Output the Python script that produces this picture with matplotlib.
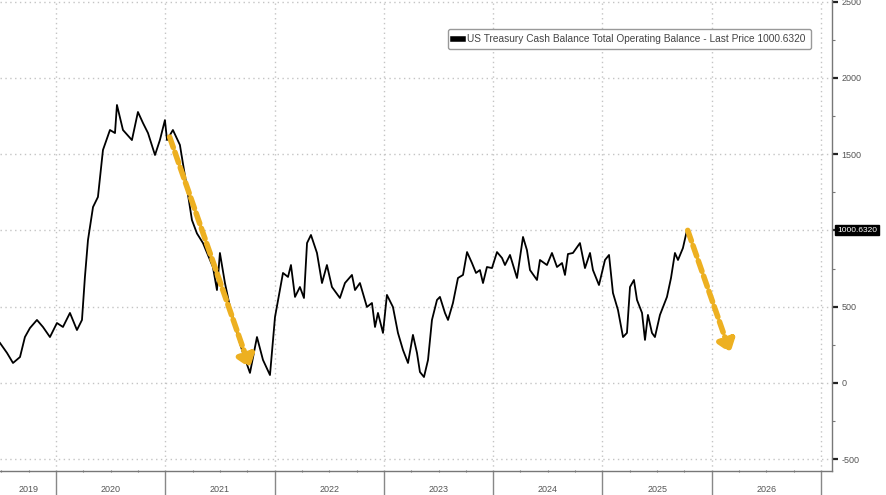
import matplotlib
matplotlib.use("Agg")
import matplotlib.pyplot as plt
from matplotlib.patches import FancyArrowPatch

plt.rcParams["savefig.bbox"] = None
plt.rcParams["font.family"] = ["Liberation Sans", "DejaVu Sans"]

# TGA balance (USD bn), dates as decimal years
years = [2019.488, 2019.552, 2019.607, 2019.671, 2019.716, 2019.762, 2019.826, 2019.881,
         2019.945, 2020.009, 2020.064, 2020.128, 2020.192, 2020.238, 2020.265, 2020.293,
         2020.339, 2020.384, 2020.430, 2020.494, 2020.540, 2020.558, 2020.613, 2020.695,
         2020.750, 2020.796, 2020.842, 2020.906, 2020.951, 2020.997, 2021.016, 2021.070,
         2021.134, 2021.199, 2021.244, 2021.290, 2021.345, 2021.436, 2021.473, 2021.500,
         2021.546, 2021.592, 2021.656, 2021.702, 2021.775, 2021.839, 2021.894, 2021.958,
         2022.004, 2022.049, 2022.077, 2022.123, 2022.150, 2022.187, 2022.232, 2022.269,
         2022.297, 2022.333, 2022.388, 2022.434, 2022.479, 2022.525, 2022.598, 2022.644,
         2022.708, 2022.736, 2022.781, 2022.845, 2022.891, 2022.919, 2022.946, 2022.992,
         2023.028, 2023.083, 2023.129, 2023.175, 2023.221, 2023.266, 2023.303, 2023.330,
         2023.367, 2023.404, 2023.440, 2023.486, 2023.513, 2023.559, 2023.587, 2023.632,
         2023.678, 2023.724, 2023.761, 2023.806, 2023.843, 2023.879, 2023.907, 2023.943,
         2023.989, 2024.035, 2024.081, 2024.108, 2024.154, 2024.218, 2024.273, 2024.309,
         2024.337, 2024.401, 2024.428, 2024.492, 2024.538, 2024.584, 2024.630, 2024.657,
         2024.684, 2024.730, 2024.794, 2024.840, 2024.886, 2024.913, 2024.968, 2025.023,
         2025.060, 2025.096, 2025.142, 2025.188, 2025.224, 2025.252, 2025.288, 2025.316,
         2025.362, 2025.389, 2025.416, 2025.453, 2025.480, 2025.526, 2025.590, 2025.627,
         2025.663, 2025.691, 2025.736, 2025.773]
balance = [262, 197, 131, 170, 301, 360, 413, 367,
           301, 393, 367, 459, 347, 413, 695, 937,
           1153, 1219, 1527, 1658, 1638, 1822, 1658, 1592,
           1776, 1704, 1638, 1494, 1592, 1723, 1592, 1658,
           1560, 1275, 1068, 980, 917, 760, 609, 852,
           655, 498, 328, 216, 66, 301, 151, 52,
           432, 609, 721, 695, 773, 564, 629, 557,
           917, 970, 852, 655, 773, 629, 557, 655,
           708, 609, 655, 498, 524, 367, 459, 328,
           577, 498, 328, 216, 131, 315, 197, 72,
           39, 151, 413, 544, 564, 459, 413, 524,
           688, 708, 858, 786, 721, 740, 655, 760,
           753, 858, 819, 773, 839, 688, 957, 871,
           740, 675, 806, 773, 852, 760, 786, 708,
           845, 852, 917, 753, 852, 740, 642, 806,
           839, 590, 478, 301, 328, 629, 675, 544,
           459, 282, 446, 328, 301, 446, 564, 688,
           852, 806, 884, 1001]

last_price = 1000.6320
year_labels = ["2019", "2020", "2021", "2022", "2023", "2024", "2025", "2026"]
y_ticks = [-500, 0, 500, 1000, 1500, 2000, 2500]

# dashed "direction" arrows (start -> end)
arrow1 = [(2021.04, 1612), (2021.775, 98)]
arrow2 = [(2025.78, 1000), (2026.17, 197)]

fig = plt.figure(figsize=(8.86, 4.95), dpi=100)
ax = fig.add_axes([0, 24 / 495, 832 / 886, 471 / 495])

ax.plot(years, balance, color="black", lw=1.3, zorder=3)

# orange dashed arrows
for (p0, p1) in [arrow1, arrow2]:
    arr = FancyArrowPatch(p0, p1, arrowstyle="-|>,head_length=3.5,head_width=2.6",
                          color="#EDB021", lw=4, ls=(0, (2.0, 0.9)),
                          mutation_scale=2, zorder=4, shrinkA=0, shrinkB=0)
    ax.add_patch(arr)

# spines: only right and bottom, grey
for side in ["top", "left"]:
    ax.spines[side].set_visible(False)
for side in ["right", "bottom"]:
    ax.spines[side].set_color("#777777")
    ax.spines[side].set_linewidth(1.0)

# y axis on the right (1000 is covered by the last price tag)
ax.yaxis.tick_right()
ax.set_yticks(y_ticks)
ax.set_yticklabels(["" if v == 1000 else str(v) for v in y_ticks])
ax.set_yticks(range(-250, 2500, 500), minor=True)
ax.tick_params(axis="y", which="major", length=4, width=1.6, color="#222222",
               labelsize=6.5, labelcolor="#555555", pad=3)
ax.tick_params(axis="y", which="minor", length=2, width=0.8, color="#777777")

# x axis: year separators below the spine, quarter marks on the spine
ax.set_xticks(range(2020, 2028))
ax.set_xticklabels([])
ax.set_xticks([y + q / 4 for y in range(2019, 2027) for q in (1, 2, 3)], minor=True)
ax.tick_params(axis="x", which="major", length=24, width=1.0, color="#888888")
ax.tick_params(axis="x", which="minor", length=2, width=0.8, color="#777777",
               direction="inout")

# limits last, set_xticks widens the view otherwise
ax.set_xlim(2019.488, 2027.10)
ax.set_ylim(-577, 2510)

for i, lab in enumerate(year_labels):
    xc = max(2019.5 + i, 2019.75)
    ax.text(xc, -0.04, lab, transform=ax.get_xaxis_transform(), ha="center",
            va="center", fontsize=6.5, color="#555555", clip_on=False)

# dotted grid
ax.grid(True, which="major", color="#c4c4c4", ls=(0, (1, 2.5)), lw=1.0)
ax.set_axisbelow(True)

# last price tag
ax.text(1.006, last_price, "%.4f" % last_price, transform=ax.get_yaxis_transform(),
        ha="left", va="center", fontsize=6.0, color="white", clip_on=False,
        bbox=dict(boxstyle="square,pad=0.2", fc="black", ec="black"))

# legend box
leg = ax.legend(["US Treasury Cash Balance Total Operating Balance - Last Price 1000.6320"],
                loc="upper left", bbox_to_anchor=(443 / 832, 1 - 24 / 471),
                handlelength=1.0, handletextpad=0.4, borderpad=0.5,
                fancybox=True, framealpha=1, edgecolor="#999999",
                prop={"family": "Liberation Sans", "size": 7.3})
leg.get_lines()[0].set_linewidth(4)
for t in leg.get_texts():
    t.set_color("#444444")

fig.savefig("out.png", dpi=100)
